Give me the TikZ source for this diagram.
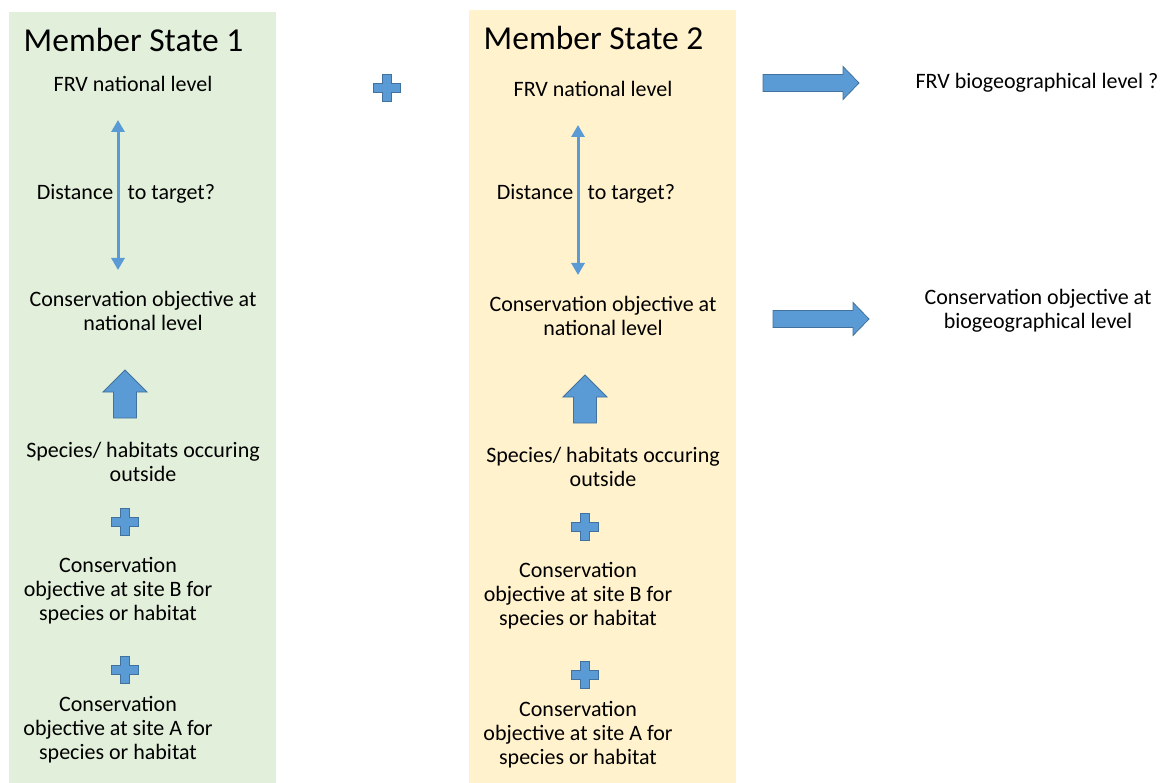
\documentclass[tikz,border=0pt]{standalone}
\usepackage{fontspec}
\setmainfont{Carlito}
\usepackage{tikz}
\usepackage{xcolor}
\usetikzlibrary{arrows.meta}

\definecolor{msgreen}{HTML}{E2EFDA}
\definecolor{msorange}{HTML}{FFF2CC}
\definecolor{arrfill}{HTML}{5B9BD5}
\definecolor{arrline}{HTML}{41719C}

\begin{document}
\begin{tikzpicture}[x=1pt,y=-1pt]
\tikzset{
  txt/.style={font=\fontsize{22}{24}\selectfont,align=center,inner sep=0pt},
  ttl/.style={font=\fontsize{33.5}{36}\selectfont,inner sep=0pt},
  blk/.style={fill=arrfill,draw=arrline,line width=0.8pt},
  dbl/.style={{Triangle[length=12pt,width=13pt]}-{Triangle[length=12pt,width=13pt]},draw=arrfill,line width=3pt}
}
\newcommand\plussign[2]{
  \filldraw[blk] (#1-4.5,#2-13.5) -- ++(9,0) -- ++(0,9) -- ++(9,0) -- ++(0,9) -- ++(-9,0)
    -- ++(0,9) -- ++(-9,0) -- ++(0,-9) -- ++(-9,0) -- ++(0,-9) -- ++(9,0) -- cycle;
}
\newcommand\uparr[2]{
  \filldraw[blk] (#1,#2) -- ++(22,22) -- ++(-10.5,0) -- ++(0,26) -- ++(-23,0) -- ++(0,-26) -- ++(-10.5,0) -- cycle;
}
\newcommand\rightarr[2]{
  \filldraw[blk] (#1,#2-8.5) -- ++(80,0) -- ++(0,-8) -- ++(16,16.5) -- ++(-16,16.5) -- ++(0,-8) -- ++(-80,0) -- cycle;
}
% one column per member state: #1 index, #2/#3 offset, #4 colour, #5 title y
\newcommand\memberstate[5]{
  \fill[#4] (#2+9,#5-28) rectangle (#2+276,783);
  \node[ttl] (title#1) at (#2+133.5,#5) {Member State #1};
  \node[txt] (frv#1) at (#2+133,#3+84) {FRV national level};
  \coordinate (top#1) at (#2+118,#3+120);
  \coordinate (bot#1) at (#2+118,#3+270);
  \draw[dbl] (top#1) -- (bot#1);
  \node[txt,anchor=base east] (dist#1) at (#2+113.5,199.5) {Distance};
  \node[txt,anchor=base west] (tgt#1) at (#2+127.5,199.5) {to target?};
  \node[txt] (conat#1) at (#2+143,#3+311) {Conservation objective at\\national level};
  \uparr{#2+125}{#3+370}
  \node[txt] (spec#1) at (#2+143,#3+462) {Species/ habitats occuring\\outside};
  \plussign{#2+125}{#3+522}
  \node[txt] (siteb#1) at (#2+118,#3+591) {Conservation\\objective at site B for\\species or habitat};
  \plussign{#2+125}{#3+670}
  \node[txt] (sitea#1) at (#2+118,#3+730) {Conservation\\objective at site A for\\species or habitat};
}
\useasboundingbox (0,0) rectangle (1166,783);
\memberstate{1}{0}{0}{msgreen}{40}
\memberstate{2}{460}{5}{msorange}{38}
\plussign{387}{88}

\rightarr{763}{83}
\node[txt] (frvbio) at (1037,83) {FRV biogeographical level ?};
\rightarr{773}{319}
\node[txt] (conbio) at (1038,311) {Conservation objective at\\biogeographical level};
\end{tikzpicture}
\end{document}
